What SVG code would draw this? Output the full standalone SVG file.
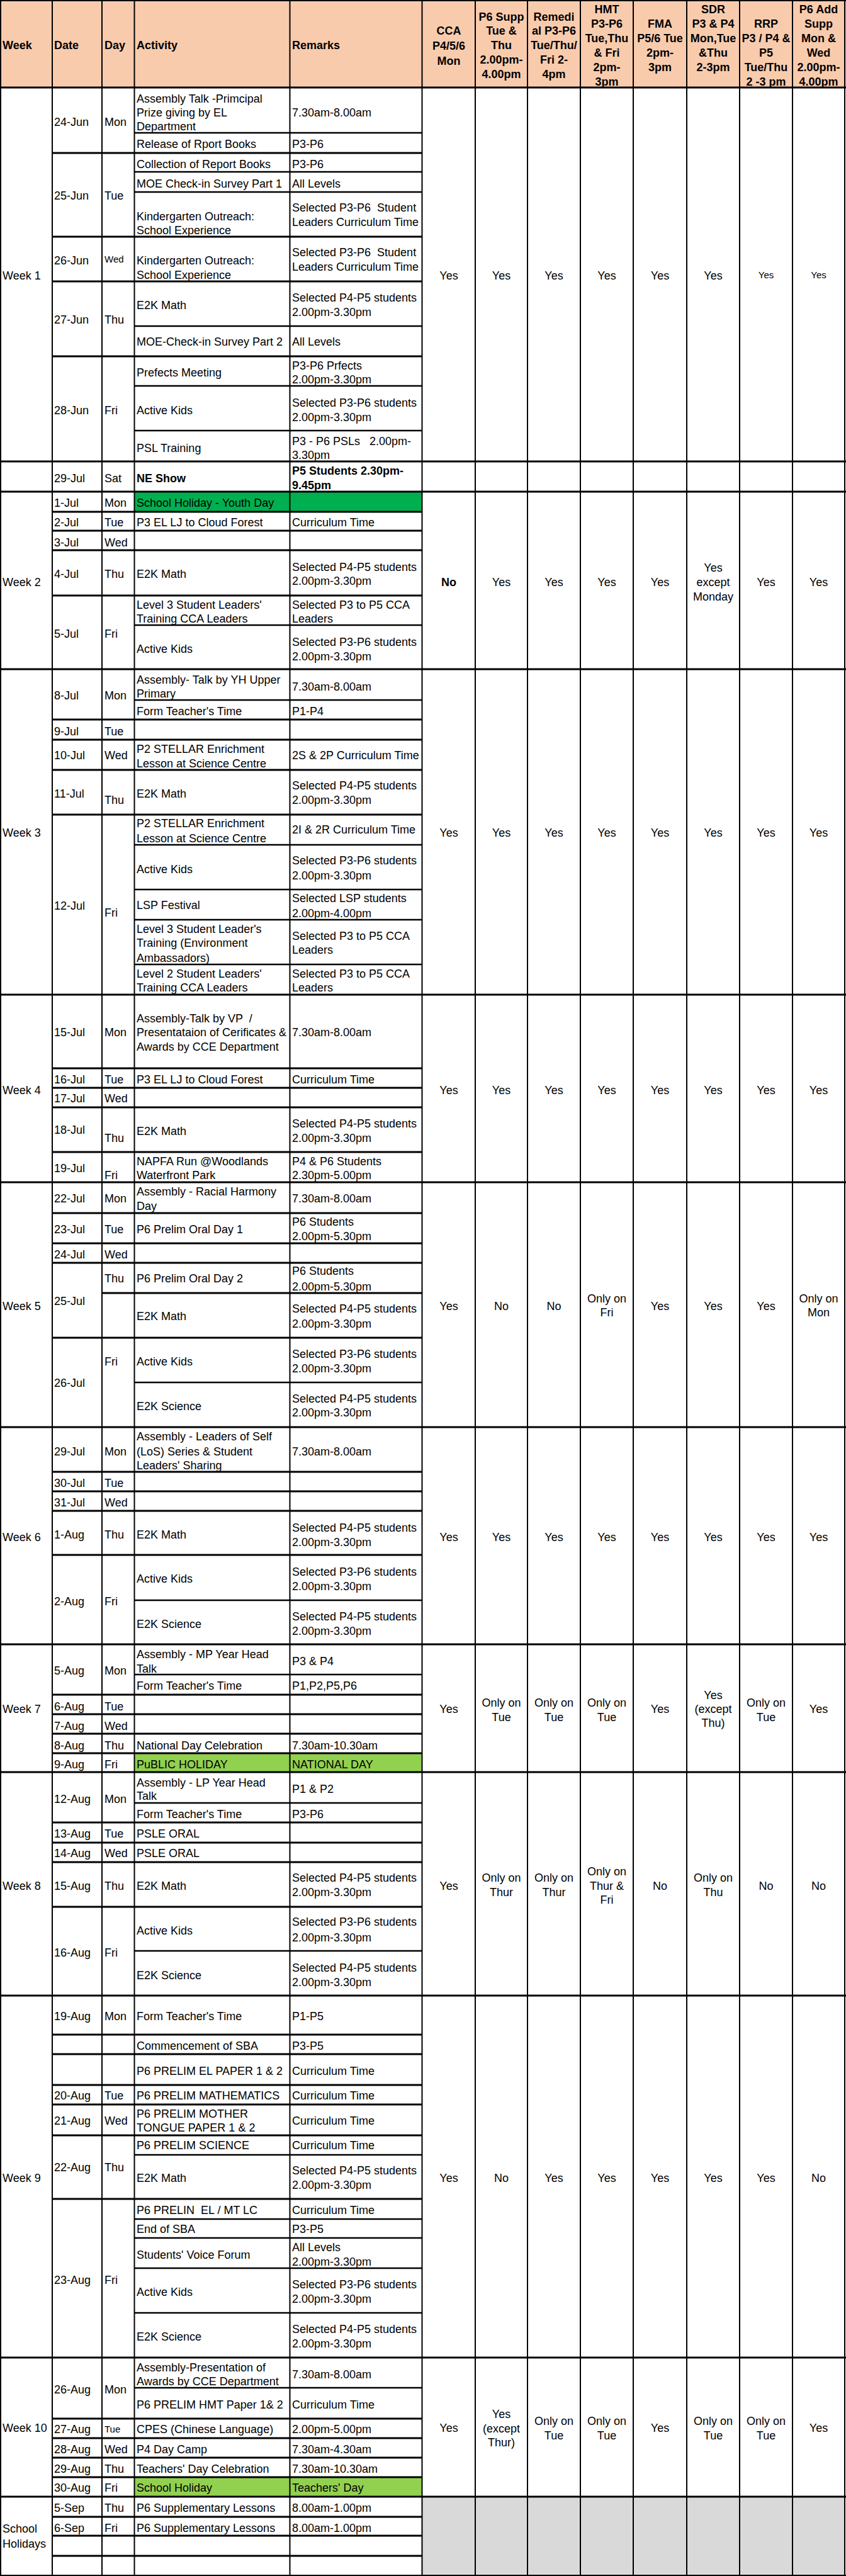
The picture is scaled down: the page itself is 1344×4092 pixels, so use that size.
<svg xmlns="http://www.w3.org/2000/svg" width="1344" height="4092" viewBox="0 0 1344 4092">
<style>
text{font-family:"Liberation Sans",Arial,sans-serif;font-size:18px;fill:#000}
.m{text-anchor:middle}
.b{font-weight:bold}
.s{font-size:15px}
.g{fill:none;stroke:#000}
</style>
<rect x="0" y="0" width="1344" height="4092" fill="#fff"/>
<rect x="0" y="0" width="1344" height="139" fill="#F8CBAD"/>
<rect x="213.5" y="781" width="457" height="32" fill="#00B050"/>
<rect x="213.5" y="2785" width="457" height="30" fill="#92D050"/>
<rect x="213.5" y="3935" width="457" height="31" fill="#92D050"/>
<rect x="670.5" y="3966" width="672" height="125" fill="#D9D9D9"/>
<g id="grid">
<path class="g" stroke-width="2" d="M1 0V4092M83 0V4092M162 0V4092M213.5 0V4092M460.5 0V4092M670.5 0V4092M755 0V4092M838 0V4092M922 0V4092M1006 0V4092M1091 0V4092M1175 0V4092M1259 0V4092M1342 0V4092M0 1H1344M0 4091H1344"/>
<path class="g" stroke-width="3" d="M0 139H1344M0 733H1344M0 781H1344M0 1063H1344M0 1580H1344M0 1878H1344M0 2267H1344M0 2612H1344M0 2815H1344M0 3170H1344M0 3745H1344M0 3966H1344"/>
<path class="g" stroke-width="3" d="M83 243H671M83 376H671M83 447H671M83 566H671M83 813H671M83 843H671M83 874H671M83 946H671M83 1143H671M83 1175H671M83 1223H671M83 1294H671M83 1697H671M83 1728H671M83 1759H671M83 1830H671M83 1927H671M83 1975H671M83 2006H671M83 2125H671M83 2338H671M83 2369H671M83 2400H671M83 2470H671M83 2692H671M83 2723H671M83 2754H671M83 2785H671M83 2895H671M83 2927H671M83 2958H671M83 3029H671M83 3232H671M83 3263H671M83 3312H671M83 3343H671M83 3392H671M83 3493H671M83 3842H671M83 3873H671M83 3904H671M83 3935H671M83 3998H671M83 4028H671M83 4060H671M162 2054H671"/>
<path class="g" stroke-width="2.5" d="M213.5 211H671M213.5 273H671M213.5 305H671M213.5 518H671M213.5 613H671M213.5 684H671M213.5 993H671M213.5 1112H671M213.5 1342H671M213.5 1413H671M213.5 1461H671M213.5 1532H671M213.5 2196H671M213.5 2542H671M213.5 2660H671M213.5 2864H671M213.5 3099H671M213.5 3423H671M213.5 3525H671M213.5 3555H671M213.5 3603H671M213.5 3674H671M213.5 3793H671"/>
</g>
<g id="header">
<text class="b" x="4" y="78">Week</text>
<text class="b" x="86" y="78">Date</text>
<text class="b" x="166" y="78">Day</text>
<text class="b" x="217" y="78">Activity</text>
<text class="b" x="464" y="78">Remarks</text>
<text class="b m" x="713" y="55">CCA</text><text class="b m" x="713" y="79">P4/5/6</text><text class="b m" x="713" y="103">Mon</text>
<text class="b m" x="796.5" y="33">P6 Supp</text><text class="b m" x="796.5" y="55">Tue &amp;</text><text class="b m" x="796.5" y="78">Thu</text><text class="b m" x="796.5" y="101">2.00pm-</text><text class="b m" x="796.5" y="124">4.00pm</text>
<text class="b m" x="880" y="33">Remedi</text><text class="b m" x="880" y="55">al P3-P6</text><text class="b m" x="880" y="78">Tue/Thu/</text><text class="b m" x="880" y="101">Fri 2-</text><text class="b m" x="880" y="124">4pm</text>
<text class="b m" x="964" y="21">HMT</text><text class="b m" x="964" y="44">P3-P6</text><text class="b m" x="964" y="67">Tue,Thu</text><text class="b m" x="964" y="90">&amp; Fri</text><text class="b m" x="964" y="113">2pm-</text><text class="b m" x="964" y="136">3pm</text>
<text class="b m" x="1048.5" y="44">FMA</text><text class="b m" x="1048.5" y="67">P5/6 Tue</text><text class="b m" x="1048.5" y="90">2pm-</text><text class="b m" x="1048.5" y="113">3pm</text>
<text class="b m" x="1133" y="21">SDR</text><text class="b m" x="1133" y="44">P3 &amp; P4</text><text class="b m" x="1133" y="67">Mon,Tue</text><text class="b m" x="1133" y="90">&amp;Thu</text><text class="b m" x="1133" y="113">2-3pm</text>
<text class="b m" x="1217" y="44">RRP</text><text class="b m" x="1217" y="67">P3 / P4 &amp;</text><text class="b m" x="1217" y="90">P5</text><text class="b m" x="1217" y="113">Tue/Thu</text><text class="b m" x="1217" y="136">2 -3 pm</text>
<text class="b m" x="1300.5" y="21">P6 Add</text><text class="b m" x="1300.5" y="44">Supp</text><text class="b m" x="1300.5" y="67">Mon &amp;</text><text class="b m" x="1300.5" y="90">Wed</text><text class="b m" x="1300.5" y="113">2.00pm-</text><text class="b m" x="1300.5" y="136">4.00pm</text>
</g>
<g id="week1">
<text x="4" y="444">Week 1</text>
<text class="m" x="713" y="444">Yes</text><text class="m" x="796.5" y="444">Yes</text><text class="m" x="880" y="444">Yes</text><text class="m" x="964" y="444">Yes</text><text class="m" x="1048.5" y="444">Yes</text><text class="m" x="1133" y="444">Yes</text><text class="m s" x="1217" y="442">Yes</text><text class="m s" x="1300.5" y="442">Yes</text>
<text x="86" y="200">24-Jun</text><text x="166" y="200">Mon</text>
<text x="217" y="163">Assembly Talk -Primcipal</text><text x="217" y="185">Prize giving by EL</text><text x="217" y="207">Department</text><text x="464" y="185">7.30am-8.00am</text>
<text x="217" y="235">Release of Rport Books</text><text x="464" y="235">P3-P6</text>
<text x="86" y="317">25-Jun</text><text x="166" y="317">Tue</text>
<text x="217" y="267">Collection of Report Books</text><text x="464" y="267">P3-P6</text>
<text x="217" y="298">MOE Check-in Survey Part 1</text><text x="464" y="298">All Levels</text>
<text x="217" y="350">Kindergarten Outreach:</text><text x="217" y="372">School Experience</text><text x="464" y="336" xml:space="preserve">Selected P3-P6  Student</text><text x="464" y="359">Leaders Curriculum Time</text>
<text x="86" y="420">26-Jun</text><text class="s" x="166" y="417">Wed</text>
<text x="217" y="420">Kindergarten Outreach:</text><text x="217" y="443">School Experience</text><text x="464" y="407" xml:space="preserve">Selected P3-P6  Student</text><text x="464" y="430">Leaders Curriculum Time</text>
<text x="86" y="514">27-Jun</text><text x="166" y="514">Thu</text>
<text x="217" y="491">E2K Math</text><text x="464" y="479">Selected P4-P5 students</text><text x="464" y="502">2.00pm-3.30pm</text>
<text x="217" y="549">MOE-Check-in Survey Part 2</text><text x="464" y="549">All Levels</text>
<text x="86" y="658">28-Jun</text><text x="166" y="658">Fri</text>
<text x="217" y="598">Prefects Meeting</text><text x="464" y="587">P3-P6 Prfects</text><text x="464" y="609">2.00pm-3.30pm</text>
<text x="217" y="658">Active Kids</text><text x="464" y="646">Selected P3-P6 students</text><text x="464" y="669">2.00pm-3.30pm</text>
<text x="217" y="718">PSL Training</text><text x="464" y="707" xml:space="preserve">P3 - P6 PSLs   2.00pm-</text><text x="464" y="729">3.30pm</text>
</g>
<g id="row-29jul">
<text x="86" y="766">29-Jul</text><text x="166" y="766">Sat</text>
<text class="b" x="217" y="766">NE Show</text><text class="b" x="464" y="754">P5 Students 2.30pm-</text><text class="b" x="464" y="777">9.45pm</text>
</g>
<g id="week2">
<text x="4" y="931">Week 2</text>
<text class="m b" x="713" y="931">No</text><text class="m" x="796.5" y="931">Yes</text><text class="m" x="880" y="931">Yes</text><text class="m" x="964" y="931">Yes</text><text class="m" x="1048.5" y="931">Yes</text><text class="m" x="1133" y="908">Yes</text><text class="m" x="1133" y="931">except</text><text class="m" x="1133" y="954">Monday</text><text class="m" x="1217" y="931">Yes</text><text class="m" x="1300.5" y="931">Yes</text>
<text x="86" y="805">1-Jul</text><text x="166" y="805">Mon</text><text x="217" y="805">School Holiday - Youth Day</text>
<text x="86" y="836">2-Jul</text><text x="166" y="836">Tue</text><text x="217" y="836">P3 EL LJ to Cloud Forest</text><text x="464" y="836">Curriculum Time</text>
<text x="86" y="868">3-Jul</text><text x="166" y="868">Wed</text>
<text x="86" y="918">4-Jul</text><text x="166" y="918">Thu</text><text x="217" y="918">E2K Math</text><text x="464" y="907">Selected P4-P5 students</text><text x="464" y="929">2.00pm-3.30pm</text>
<text x="86" y="1013">5-Jul</text><text x="166" y="1013">Fri</text>
<text x="217" y="967">Level 3 Student Leaders'</text><text x="217" y="989">Training CCA Leaders</text><text x="464" y="967">Selected P3 to P5 CCA</text><text x="464" y="989">Leaders</text>
<text x="217" y="1037">Active Kids</text><text x="464" y="1026">Selected P3-P6 students</text><text x="464" y="1049">2.00pm-3.30pm</text>
</g>
<g id="week3">
<text x="4" y="1329">Week 3</text>
<text class="m" x="713" y="1329">Yes</text><text class="m" x="796.5" y="1329">Yes</text><text class="m" x="880" y="1329">Yes</text><text class="m" x="964" y="1329">Yes</text><text class="m" x="1048.5" y="1329">Yes</text><text class="m" x="1133" y="1329">Yes</text><text class="m" x="1217" y="1329">Yes</text><text class="m" x="1300.5" y="1329">Yes</text>
<text x="86" y="1111">8-Jul</text><text x="166" y="1111">Mon</text>
<text x="217" y="1086">Assembly- Talk by YH Upper</text><text x="217" y="1108">Primary</text><text x="464" y="1097">7.30am-8.00am</text>
<text x="217" y="1136">Form Teacher's Time</text><text x="464" y="1136">P1-P4</text>
<text x="86" y="1168">9-Jul</text><text x="166" y="1168">Tue</text>
<text x="86" y="1206">10-Jul</text><text x="166" y="1206">Wed</text><text x="217" y="1196">P2 STELLAR Enrichment</text><text x="217" y="1219">Lesson at Science Centre</text><text x="464" y="1206">2S &amp; 2P Curriculum Time</text>
<text x="86" y="1267">11-Jul</text><text x="166" y="1277">Thu</text><text x="217" y="1267">E2K Math</text><text x="464" y="1254">Selected P4-P5 students</text><text x="464" y="1277">2.00pm-3.30pm</text>
<text x="86" y="1445">12-Jul</text><text x="166" y="1456">Fri</text>
<text x="217" y="1314">P2 STELLAR Enrichment</text><text x="217" y="1338">Lesson at Science Centre</text><text x="464" y="1324">2I &amp; 2R Curriculum Time</text>
<text x="217" y="1387">Active Kids</text><text x="464" y="1373">Selected P3-P6 students</text><text x="464" y="1397">2.00pm-3.30pm</text>
<text x="217" y="1444">LSP Festival</text><text x="464" y="1433">Selected LSP students</text><text x="464" y="1457">2.00pm-4.00pm</text>
<text x="217" y="1482">Level 3 Student Leader's</text><text x="217" y="1504">Training (Environment</text><text x="217" y="1528">Ambassadors)</text><text x="464" y="1493">Selected P3 to P5 CCA</text><text x="464" y="1515">Leaders</text>
<text x="217" y="1553">Level 2 Student Leaders'</text><text x="217" y="1575">Training CCA Leaders</text><text x="464" y="1553">Selected P3 to P5 CCA</text><text x="464" y="1575">Leaders</text>
</g>
<g id="week4">
<text x="4" y="1738">Week 4</text>
<text class="m" x="713" y="1738">Yes</text><text class="m" x="796.5" y="1738">Yes</text><text class="m" x="880" y="1738">Yes</text><text class="m" x="964" y="1738">Yes</text><text class="m" x="1048.5" y="1738">Yes</text><text class="m" x="1133" y="1738">Yes</text><text class="m" x="1217" y="1738">Yes</text><text class="m" x="1300.5" y="1738">Yes</text>
<text x="86" y="1646">15-Jul</text><text x="166" y="1646">Mon</text>
<text x="217" y="1624" xml:space="preserve">Assembly-Talk by VP  /</text><text x="217" y="1646">Presentataion of Cerificates &amp;</text><text x="217" y="1669">Awards by CCE Department</text><text x="464" y="1646">7.30am-8.00am</text>
<text x="86" y="1721">16-Jul</text><text x="166" y="1721">Tue</text><text x="217" y="1721">P3 EL LJ to Cloud Forest</text><text x="464" y="1721">Curriculum Time</text>
<text x="86" y="1751">17-Jul</text><text x="166" y="1751">Wed</text>
<text x="86" y="1801">18-Jul</text><text x="166" y="1814">Thu</text><text x="217" y="1803">E2K Math</text><text x="464" y="1791">Selected P4-P5 students</text><text x="464" y="1814">2.00pm-3.30pm</text>
<text x="86" y="1862">19-Jul</text><text x="166" y="1873">Fri</text><text x="217" y="1851">NAPFA Run @Woodlands</text><text x="217" y="1873">Waterfront Park</text><text x="464" y="1851">P4 &amp; P6 Students</text><text x="464" y="1873">2.30pm-5.00pm</text>
</g>
<g id="week5">
<text x="4" y="2081">Week 5</text>
<text class="m" x="713" y="2081">Yes</text><text class="m" x="796.5" y="2081">No</text><text class="m" x="880" y="2081">No</text><text class="m" x="964" y="2069">Only on</text><text class="m" x="964" y="2091">Fri</text><text class="m" x="1048.5" y="2081">Yes</text><text class="m" x="1133" y="2081">Yes</text><text class="m" x="1217" y="2081">Yes</text><text class="m" x="1300.5" y="2069">Only on</text><text class="m" x="1300.5" y="2091">Mon</text>
<text x="86" y="1910">22-Jul</text><text x="166" y="1910">Mon</text><text x="217" y="1899">Assembly - Racial Harmony</text><text x="217" y="1922">Day</text><text x="464" y="1910">7.30am-8.00am</text>
<text x="86" y="1959">23-Jul</text><text x="166" y="1959">Tue</text><text x="217" y="1959">P6 Prelim Oral Day 1</text><text x="464" y="1947">P6 Students</text><text x="464" y="1970">2.00pm-5.30pm</text>
<text x="86" y="1999">24-Jul</text><text x="166" y="1999">Wed</text>
<text x="166" y="2037">Thu</text><text x="217" y="2037">P6 Prelim Oral Day 2</text><text x="464" y="2025">P6 Students</text><text x="464" y="2050">2.00pm-5.30pm</text>
<text x="86" y="2073">25-Jul</text>
<text x="217" y="2097">E2K Math</text><text x="464" y="2085">Selected P4-P5 students</text><text x="464" y="2109">2.00pm-3.30pm</text>
<text x="86" y="2203">26-Jul</text><text x="166" y="2169">Fri</text>
<text x="217" y="2169">Active Kids</text><text x="464" y="2157">Selected P3-P6 students</text><text x="464" y="2180">2.00pm-3.30pm</text>
<text x="217" y="2240">E2K Science</text><text x="464" y="2228">Selected P4-P5 students</text><text x="464" y="2250">2.00pm-3.30pm</text>
</g>
<g id="week6">
<text x="4" y="2448">Week 6</text>
<text class="m" x="713" y="2448">Yes</text><text class="m" x="796.5" y="2448">Yes</text><text class="m" x="880" y="2448">Yes</text><text class="m" x="964" y="2448">Yes</text><text class="m" x="1048.5" y="2448">Yes</text><text class="m" x="1133" y="2448">Yes</text><text class="m" x="1217" y="2448">Yes</text><text class="m" x="1300.5" y="2448">Yes</text>
<text x="86" y="2312">29-Jul</text><text x="166" y="2312">Mon</text><text x="217" y="2288">Assembly - Leaders of Self</text><text x="217" y="2312">(LoS) Series &amp; Student</text><text x="217" y="2334">Leaders' Sharing</text><text x="464" y="2312">7.30am-8.00am</text>
<text x="86" y="2362">30-Jul</text><text x="166" y="2362">Tue</text>
<text x="86" y="2393">31-Jul</text><text x="166" y="2393">Wed</text>
<text x="86" y="2444">1-Aug</text><text x="166" y="2444">Thu</text><text x="217" y="2444">E2K Math</text><text x="464" y="2433">Selected P4-P5 students</text><text x="464" y="2456">2.00pm-3.30pm</text>
<text x="86" y="2550">2-Aug</text><text x="166" y="2550">Fri</text>
<text x="217" y="2514">Active Kids</text><text x="464" y="2503">Selected P3-P6 students</text><text x="464" y="2526">2.00pm-3.30pm</text>
<text x="217" y="2586">E2K Science</text><text x="464" y="2574">Selected P4-P5 students</text><text x="464" y="2597">2.00pm-3.30pm</text>
</g>
<g id="week7">
<text x="4" y="2721">Week 7</text>
<text class="m" x="713" y="2721">Yes</text><text class="m" x="796.5" y="2711">Only on</text><text class="m" x="796.5" y="2734">Tue</text><text class="m" x="880" y="2711">Only on</text><text class="m" x="880" y="2734">Tue</text><text class="m" x="964" y="2711">Only on</text><text class="m" x="964" y="2734">Tue</text><text class="m" x="1048.5" y="2721">Yes</text><text class="m" x="1133" y="2699">Yes</text><text class="m" x="1133" y="2721">(except</text><text class="m" x="1133" y="2743">Thu)</text><text class="m" x="1217" y="2711">Only on</text><text class="m" x="1217" y="2734">Tue</text><text class="m" x="1300.5" y="2721">Yes</text>
<text x="86" y="2660">5-Aug</text><text x="166" y="2660">Mon</text><text x="217" y="2634">Assembly - MP Year Head</text><text x="217" y="2657">Talk</text><text x="464" y="2645">P3 &amp; P4</text>
<text x="217" y="2684">Form Teacher's Time</text><text x="464" y="2684">P1,P2,P5,P6</text>
<text x="86" y="2717">6-Aug</text><text x="166" y="2717">Tue</text>
<text x="86" y="2748">7-Aug</text><text x="166" y="2748">Wed</text>
<text x="86" y="2779">8-Aug</text><text x="166" y="2779">Thu</text><text x="217" y="2779">National Day Celebration</text><text x="464" y="2779">7.30am-10.30am</text>
<text x="86" y="2809">9-Aug</text><text x="166" y="2809">Fri</text><text x="217" y="2809">PuBLIC HOLIDAY</text><text x="464" y="2809">NATIONAL DAY</text>
</g>
<g id="week8">
<text x="4" y="3002">Week 8</text>
<text class="m" x="713" y="3002">Yes</text><text class="m" x="796.5" y="2989">Only on</text><text class="m" x="796.5" y="3012">Thur</text><text class="m" x="880" y="2989">Only on</text><text class="m" x="880" y="3012">Thur</text><text class="m" x="964" y="2979">Only on</text><text class="m" x="964" y="3002">Thur &amp;</text><text class="m" x="964" y="3024">Fri</text><text class="m" x="1048.5" y="3002">No</text><text class="m" x="1133" y="2989">Only on</text><text class="m" x="1133" y="3012">Thu</text><text class="m" x="1217" y="3002">No</text><text class="m" x="1300.5" y="3002">No</text>
<text x="86" y="2864">12-Aug</text><text x="166" y="2864">Mon</text><text x="217" y="2838">Assembly - LP Year Head</text><text x="217" y="2859">Talk</text><text x="464" y="2848">P1 &amp; P2</text>
<text x="217" y="2888">Form Teacher's Time</text><text x="464" y="2888">P3-P6</text>
<text x="86" y="2919">13-Aug</text><text x="166" y="2919">Tue</text><text x="217" y="2919">PSLE ORAL</text>
<text x="86" y="2950">14-Aug</text><text x="166" y="2950">Wed</text><text x="217" y="2950">PSLE ORAL</text>
<text x="86" y="3002">15-Aug</text><text x="166" y="3002">Thu</text><text x="217" y="3002">E2K Math</text><text x="464" y="2989">Selected P4-P5 students</text><text x="464" y="3012">2.00pm-3.30pm</text>
<text x="86" y="3108">16-Aug</text><text x="166" y="3108">Fri</text>
<text x="217" y="3073">Active Kids</text><text x="464" y="3059">Selected P3-P6 students</text><text x="464" y="3084">2.00pm-3.30pm</text>
<text x="217" y="3144">E2K Science</text><text x="464" y="3132">Selected P4-P5 students</text><text x="464" y="3155">2.00pm-3.30pm</text>
</g>
<g id="week9">
<text x="4" y="3466">Week 9</text>
<text class="m" x="713" y="3466">Yes</text><text class="m" x="796.5" y="3466">No</text><text class="m" x="880" y="3466">Yes</text><text class="m" x="964" y="3466">Yes</text><text class="m" x="1048.5" y="3466">Yes</text><text class="m" x="1133" y="3466">Yes</text><text class="m" x="1217" y="3466">Yes</text><text class="m" x="1300.5" y="3466">No</text>
<text x="86" y="3209">19-Aug</text><text x="166" y="3209">Mon</text><text x="217" y="3209">Form Teacher's Time</text><text x="464" y="3209">P1-P5</text>
<text x="217" y="3256">Commencement of SBA</text><text x="464" y="3256">P3-P5</text>
<text x="217" y="3296">P6 PRELIM EL PAPER 1 &amp; 2</text><text x="464" y="3296">Curriculum Time</text>
<text x="86" y="3335">20-Aug</text><text x="166" y="3335">Tue</text><text x="217" y="3335">P6 PRELIM MATHEMATICS</text><text x="464" y="3335">Curriculum Time</text>
<text x="86" y="3375">21-Aug</text><text x="166" y="3375">Wed</text><text x="217" y="3364">P6 PRELIM MOTHER</text><text x="217" y="3386">TONGUE PAPER 1 &amp; 2</text><text x="464" y="3375">Curriculum Time</text>
<text x="86" y="3449">22-Aug</text><text x="166" y="3449">Thu</text>
<text x="217" y="3414">P6 PRELIM SCIENCE</text><text x="464" y="3414">Curriculum Time</text>
<text x="217" y="3466">E2K Math</text><text x="464" y="3454">Selected P4-P5 students</text><text x="464" y="3477">2.00pm-3.30pm</text>
<text x="86" y="3628">23-Aug</text><text x="166" y="3628">Fri</text>
<text x="217" y="3517" xml:space="preserve">P6 PRELIN  EL / MT LC</text><text x="464" y="3517">Curriculum Time</text>
<text x="217" y="3547">End of SBA</text><text x="464" y="3547">P3-P5</text>
<text x="217" y="3588">Students' Voice Forum</text><text x="464" y="3576">All Levels</text><text x="464" y="3599">2.00pm-3.30pm</text>
<text x="217" y="3647">Active Kids</text><text x="464" y="3635">Selected P3-P6 students</text><text x="464" y="3658">2.00pm-3.30pm</text>
<text x="217" y="3718">E2K Science</text><text x="464" y="3706">Selected P4-P5 students</text><text x="464" y="3729">2.00pm-3.30pm</text>
</g>
<g id="week10">
<text x="4" y="3863">Week 10</text>
<text class="m" x="713" y="3863">Yes</text><text class="m" x="796.5" y="3841">Yes</text><text class="m" x="796.5" y="3864">(except</text><text class="m" x="796.5" y="3886">Thur)</text><text class="m" x="880" y="3852">Only on</text><text class="m" x="880" y="3875">Tue</text><text class="m" x="964" y="3852">Only on</text><text class="m" x="964" y="3875">Tue</text><text class="m" x="1048.5" y="3863">Yes</text><text class="m" x="1133" y="3852">Only on</text><text class="m" x="1133" y="3875">Tue</text><text class="m" x="1217" y="3852">Only on</text><text class="m" x="1217" y="3875">Tue</text><text class="m" x="1300.5" y="3863">Yes</text>
<text x="86" y="3802">26-Aug</text><text x="166" y="3802">Mon</text>
<text x="217" y="3767">Assembly-Presentation of</text><text x="217" y="3789">Awards by CCE Department</text><text x="464" y="3778">7.30am-8.00am</text>
<text x="217" y="3826">P6 PRELIM HMT Paper 1&amp; 2</text><text x="464" y="3826">Curriculum Time</text>
<text x="86" y="3865">27-Aug</text><text class="s" x="166" y="3864">Tue</text><text x="217" y="3865">CPES (Chinese Language)</text><text x="464" y="3865">2.00pm-5.00pm</text>
<text x="86" y="3897">28-Aug</text><text x="166" y="3897">Wed</text><text x="217" y="3897">P4 Day Camp</text><text x="464" y="3897">7.30am-4.30am</text>
<text x="86" y="3928">29-Aug</text><text x="166" y="3928">Thu</text><text x="217" y="3928">Teachers' Day Celebration</text><text x="464" y="3928">7.30am-10.30am</text>
<text x="86" y="3958">30-Aug</text><text x="166" y="3958">Fri</text><text x="217" y="3958">School Holiday</text><text x="464" y="3958">Teachers' Day</text>
</g>
<g id="school-holidays">
<text x="4" y="4023">School</text><text x="4" y="4047">Holidays</text>
<text x="86" y="3990">5-Sep</text><text x="166" y="3990">Thu</text><text x="217" y="3990">P6 Supplementary Lessons</text><text x="464" y="3990">8.00am-1.00pm</text>
<text x="86" y="4022">6-Sep</text><text x="166" y="4022">Fri</text><text x="217" y="4022">P6 Supplementary Lessons</text><text x="464" y="4022">8.00am-1.00pm</text>
</g>
</svg>
